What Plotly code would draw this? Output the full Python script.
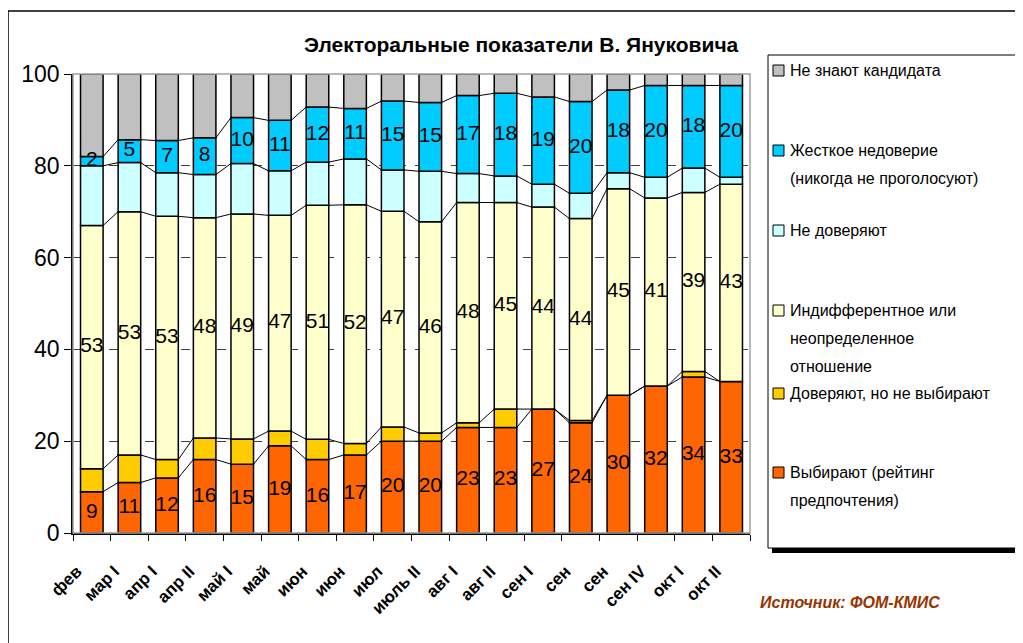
import numpy as np
import plotly.graph_objects as go

periods = ["фев", "мар I", "апр I", "апр II", "май I", "май", "июн", "июн", "июл",
           "июль II", "авг I", "авг II", "сен I", "сен", "сен", "сен IV", "окт I", "окт II"]

vybirayut = [9, 11, 12, 16, 15, 19, 16, 17, 20, 20, 23, 23, 27, 24, 30, 32, 34, 33]
doveryayut = [5, 6, 4, 4.7, 5.5, 3.2, 4.4, 2.5, 3.1, 1.8, 1, 4, 0, 0.5, 0, 0, 1.2, 0]
indiff = [53, 53, 53, 48, 49, 47, 51, 52, 47, 46, 48, 45, 44, 44, 45, 41, 39, 43]
ne_doveryayut = [13, 10.7, 9.5, 9.4, 11, 9.7, 9.4, 10, 9, 11, 6.3, 5.8, 5, 5.5, 3.5, 4.5, 5.3, 1.5]
zhestkoe = [2, 5, 7, 8, 10, 11, 12, 11, 15, 15, 17, 18, 19, 20, 18, 20, 18, 20]
ne_znayut = [18, 14.3, 14.5, 13.9, 9.5, 10.1, 7.2, 7.5, 5.9, 6.2, 4.7, 4.2, 5, 6, 3.5, 2.5, 2.5, 2.5]

# bottom -> top
series = [
    ("Выбирают (рейтинг предпочтения)", vybirayut, "#FF6600", True),
    ("Доверяют, но не выбирают", doveryayut, "#FFCC00", False),
    ("Индифферентное или неопределенное отношение", indiff, "#FFFFCC", True),
    ("Не доверяют", ne_doveryayut, "#CCFFFF", False),
    ("Жесткое недоверие (никогда не проголосуют)", zhestkoe, "#00CCFF", True),
    ("Не знают кандидата", ne_znayut, "#C0C0C0", False),
]

# legend lines, top -> bottom, with text row positions (page px)
legend_rows = [
    ("#C0C0C0", ["Не знают кандидата"], 70),
    ("#00CCFF", ["Жесткое недоверие", "(никогда не проголосуют)"], 150),
    ("#CCFFFF", ["Не доверяют"], 230),
    ("#FFFFCC", ["Индифферентное или", "неопределенное", "отношение"], 310),
    ("#FFCC00", ["Доверяют, но не выбирают"], 393),
    ("#FF6600", ["Выбирают (рейтинг", "предпочтения)"], 472),
]

FONT = "Liberation Sans, Arial, sans-serif"
OFF = 8  # page body margin
W, H = 1023 - OFF, 643 - OFF
# plot area in page px: x 73..750, y 74..533
L, T = 73 - OFF, 74 - OFF
R, B = W - (750 - OFF), H - (533 - OFF)
BAR_W = 0.6


def px(x):
    return (x - OFF - L) / (W - L - R)


def py(y):
    return (H - B - (y - OFF)) / (H - T - B)


x = np.arange(len(periods))
fig = go.Figure()

bottom = np.zeros(len(periods))
for name, vals, color, labelled in series:
    vals = np.array(vals, dtype=float)
    fig.add_trace(go.Bar(
        x=x, y=vals, base=bottom, width=BAR_W, name=name,
        marker=dict(color=color, line=dict(color="black", width=1.5)),
    ))
    top = bottom + vals
    if labelled:
        fig.add_trace(go.Scatter(
            x=x, y=bottom + vals / 2, mode="text",
            text=[f"{v:.0f}" for v in vals],
            textfont=dict(family=FONT, size=21, color="black"),
            cliponaxis=False, hoverinfo="skip",
        ))
    # series lines between neighbouring bars
    if name != "Не знают кандидата":
        lx, ly = [], []
        for i in range(len(periods) - 1):
            lx += [x[i] + BAR_W / 2, x[i + 1] - BAR_W / 2, None]
            ly += [top[i], top[i + 1], None]
        fig.add_trace(go.Scatter(x=lx, y=ly, mode="lines",
                                 line=dict(color="black", width=1), hoverinfo="skip"))
    bottom = top

shapes = [
    # outer chart frame
    dict(type="rect", xref="paper", yref="paper", x0=px(8), x1=px(1060), y0=py(680), y1=py(11),
         line=dict(color="black", width=1.5), layer="below"),
    # plot area border
    dict(type="rect", xref="paper", yref="paper", x0=0, x1=1, y0=0, y1=1,
         line=dict(color="#A0A0A0", width=1.5), layer="above"),
    # legend shadow + box
    dict(type="rect", xref="paper", yref="paper", x0=px(772), x1=px(1021), y0=py(553), y1=py(59),
         fillcolor="black", line=dict(width=0)),
    dict(type="rect", xref="paper", yref="paper", x0=px(768), x1=px(1016), y0=py(548), y1=py(55),
         fillcolor="white", line=dict(color="black", width=1)),
]

annotations = [
    dict(text="<b>Электоральные показатели В. Януковича</b>", xref="paper", yref="paper",
         x=px(521), y=py(44), xanchor="center", yanchor="middle", showarrow=False,
         font=dict(family=FONT, size=21, color="black")),
    dict(text="<b><i>Источник: ФОМ-КМИС</i></b>", xref="paper", yref="paper",
         x=px(850), y=py(602), xanchor="center", yanchor="middle", showarrow=False,
         font=dict(family=FONT, size=16, color="#993300")),
]

for color, lines, y0 in legend_rows:
    shapes.append(dict(type="rect", xref="paper", yref="paper",
                       x0=px(773), x1=px(784), y0=py(y0 + 6), y1=py(y0 - 5),
                       fillcolor=color, line=dict(color="black", width=1)))
    for k, line in enumerate(lines):
        annotations.append(dict(text=line, xref="paper", yref="paper", x=px(788),
                                y=py(y0 + 28 * k), xanchor="left", yanchor="middle",
                                showarrow=False,
                                font=dict(family=FONT, size=16, color="black")))

fig.update_layout(
    width=W, height=H, margin=dict(l=L, r=R, t=T, b=B, autoexpand=False),
    barmode="overlay", showlegend=False,
    plot_bgcolor="white", paper_bgcolor="white",
    shapes=shapes, annotations=annotations,
    xaxis=dict(
        range=[-0.5, len(periods) - 0.5], tickvals=x, ticktext=periods,
        tickangle=-45, ticks="", showgrid=False, zeroline=False,
        showline=True, linecolor="black", linewidth=1.5,
        ticklabelstandoff=20, ticklabelshift=-15,
        tickfont=dict(family=FONT, size=17, color="black", weight="bold"),
        minor=dict(ticks="outside", tick0=-0.5, dtick=1, ticklen=6,
                   tickcolor="black", tickwidth=1, showgrid=False),
    ),
    yaxis=dict(
        range=[0, 100], tickvals=[0, 20, 40, 60, 80, 100],
        ticks="outside", ticklen=7, tickcolor="black", tickwidth=1,
        showline=True, linecolor="black", linewidth=1.5, zeroline=False,
        showgrid=True, gridcolor="#404040", griddash="dash", gridwidth=1,
        tickfont=dict(family=FONT, size=23, color="black"),
    ),
)

fig.write_html("out.html")
